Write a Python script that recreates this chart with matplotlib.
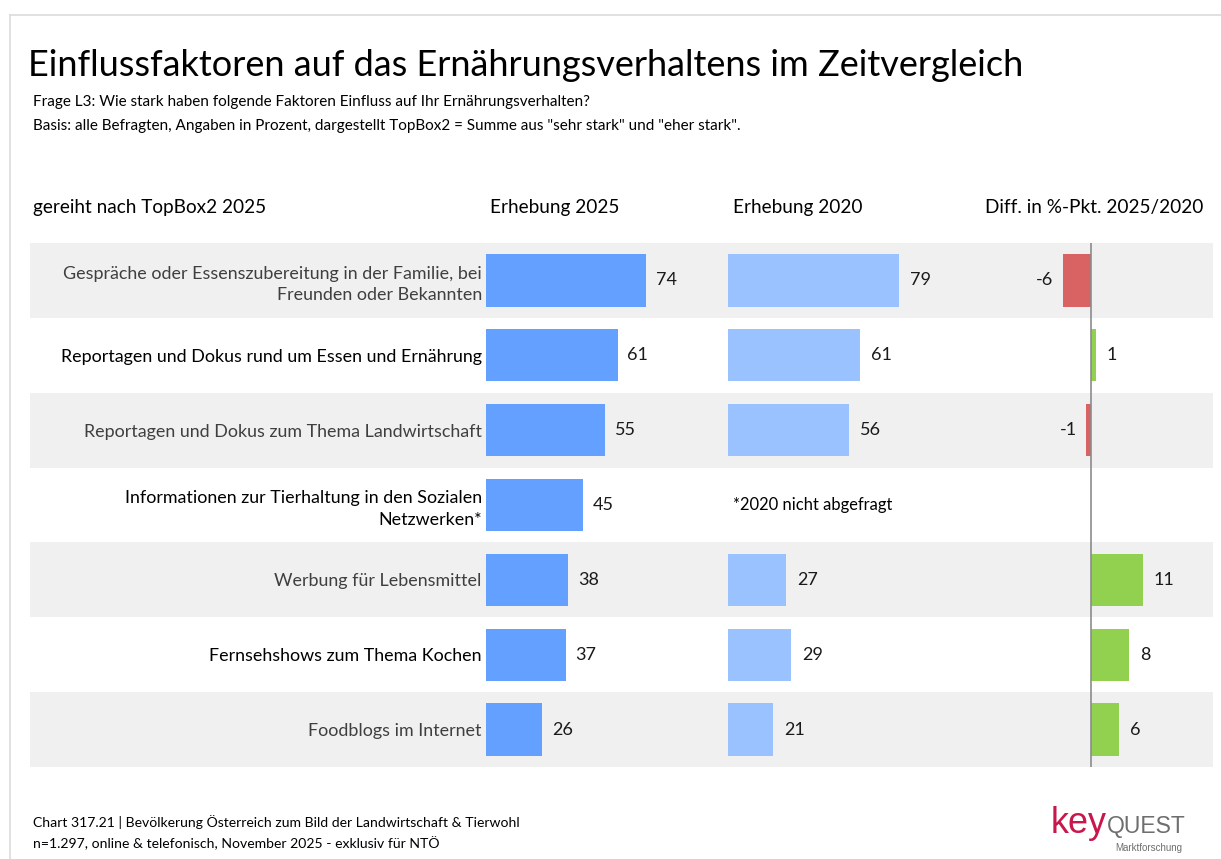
import numpy as np
import matplotlib
matplotlib.use("Agg")
import matplotlib.pyplot as plt
from matplotlib.lines import Line2D

kategorien = [
    "Gespräche oder Essenszubereitung in der Familie, bei\nFreunden oder Bekannten",
    "Reportagen und Dokus rund um Essen und Ernährung",
    "Reportagen und Dokus zum Thema Landwirtschaft",
    "Informationen zur Tierhaltung in den Sozialen\nNetzwerken*",
    "Werbung für Lebensmittel",
    "Fernsehshows zum Thema Kochen",
    "Foodblogs im Internet",
]
werte_2025 = [74, 61, 55, 45, 38, 37, 26]
werte_2020 = [79, 61, 56, np.nan, 27, 29, 21]
differenz = [-6, 1, -1, np.nan, 11, 8, 6]

titel = "Einflussfaktoren auf das Ernährungsverhaltens im Zeitvergleich"
frage = "Frage L3: Wie stark haben folgende Faktoren Einfluss auf Ihr Ernährungsverhalten?"
basis = 'Basis: alle Befragten, Angaben in Prozent, dargestellt TopBox2 = Summe aus "sehr stark" und "eher stark".'
kopf = ["gereiht nach TopBox2 2025", "Erhebung 2025", "Erhebung 2020", "Diff. in %-Pkt. 2025/2020"]
fuss1 = "Chart 317.21 | Bevölkerung Österreich zum Bild der Landwirtschaft & Tierwohl"
fuss2 = "n=1.297, online & telefonisch, November 2025 - exklusiv für NTÖ"

plt.rcParams['font.family'] = ['Lato', 'DejaVu Sans']

W, H = 1221, 859
fig = plt.figure(figsize=(W / 100, H / 100), dpi=100)

def box(x0, y0, x1, y1):
    # Pixelkoordinaten (oben links) -> Figurkoordinaten
    return [x0 / W, 1 - y1 / H, (x1 - x0) / W, (y1 - y0) / H]

def ftext(x, y, s, **kw):
    return fig.text(x / W, 1 - y / H, s, **kw)

# Rahmenlinien
fig.add_artist(Line2D([10 / W, 1], [1 - 15 / H] * 2, color="#dcdcdc", lw=1.2))
fig.add_artist(Line2D([10 / W] * 2, [0, 1 - 15 / H], color="#dcdcdc", lw=1.2))

n = len(kategorien)
y = np.arange(n)
oben, unten = 243, 767

# Hintergrund mit grauen Zeilen
ax_bg = fig.add_axes(box(30, oben, 1213, unten), zorder=0)
ax_bg.set_xlim(0, 1)
ax_bg.set_ylim(n - 0.5, -0.5)
for i in y[::2]:
    ax_bg.axhspan(i - 0.5, i + 0.5, color="#f0f0f0", lw=0)
ax_bg.axis("off")

blau = "#64a0ff"
hellblau = "#99c2ff"
rot = "#d96262"
gruen = "#92d050"
fs_wert = 13

# Erhebung 2025
ax1 = fig.add_axes(box(486, oben, 702, unten), zorder=1)
ax1.barh(y, werte_2025, height=0.7, color=blau)
ax1.set_xlim(0, 100)
for yi, v in zip(y, werte_2025):
    ax1.annotate(f"{v}", (v, yi), xytext=(7, 0), textcoords="offset points",
                 va="center", ha="left", fontsize=fs_wert, color="#1a1a1a")
ax1.set_yticks(y)
ax1.set_yticklabels(kategorien, fontsize=12.9, linespacing=1.4)
for i, t in enumerate(ax1.get_yticklabels()):
    t.set_color("#3f3f3f" if i % 2 == 0 else "#000000")
ax1.tick_params(axis="y", length=0, pad=3)
ax1.set_xticks([])

# Erhebung 2020
ax2 = fig.add_axes(box(728, oben, 944, unten), zorder=1)
ax2.barh(y, werte_2020, height=0.7, color=hellblau)
ax2.set_xlim(0, 100)
for yi, v in zip(y, werte_2020):
    if np.isnan(v):
        continue
    ax2.annotate(f"{v:.0f}", (v, yi), xytext=(8, 0), textcoords="offset points",
                 va="center", ha="left", fontsize=fs_wert, color="#1a1a1a")
ax2.text(2.3, 3, "*2020 nicht abgefragt", va="center", ha="left", fontsize=11.9, color="#000000")
ax2.set_yticks([])
ax2.set_xticks([])

# Differenz
ax3 = fig.add_axes(box(1030, oben, 1213, unten), zorder=1)
farben = [rot if d < 0 else gruen for d in np.nan_to_num(differenz)]
ax3.barh(y, differenz, height=0.7, color=farben)
ax3.axvline(0, color="#8c8c8c", lw=1.2)
ax3.set_xlim(-13, 26)
for yi, d in zip(y, differenz):
    if np.isnan(d):
        continue
    if d < 0:
        ax3.annotate(f"{d:.0f}", (d, yi), xytext=(-7, 0), textcoords="offset points",
                     va="center", ha="right", fontsize=fs_wert, color="#1a1a1a")
    else:
        ax3.annotate(f"{d:.0f}", (d, yi), xytext=(8, 0), textcoords="offset points",
                     va="center", ha="left", fontsize=fs_wert, color="#1a1a1a")
ax3.set_yticks([])
ax3.set_xticks([])

for ax in (ax1, ax2, ax3):
    ax.set_ylim(n - 0.5, -0.5)
    ax.patch.set_alpha(0)
    for s in ax.spines.values():
        s.set_visible(False)

# Texte
ftext(28, 65, titel, fontsize=26, va="center", ha="left", color="#000000")
ftext(33, 102, frage, fontsize=11, va="center", ha="left", color="#000000")
ftext(33, 126, basis, fontsize=11, va="center", ha="left", color="#000000")
for x, s in zip([33, 490, 733, 985], kopf):
    ftext(x, 208, s, fontsize=13.7, va="center", ha="left", color="#000000")
ftext(33, 822, fuss1, fontsize=10.1, va="center", ha="left", color="#000000")
ftext(33, 843, fuss2, fontsize=10.1, va="center", ha="left", color="#000000")

# Logo
ftext(1107, 833, "key", fontsize=26, va="baseline", ha="right", color="#c8174b",
      family="Liberation Sans")
ftext(1107, 833, "QUEST", fontsize=16.5, va="baseline", ha="left", color="#6e6e6e",
      family="Liberation Sans")
ftext(1182, 848, "Marktforschung", fontsize=7, va="center", ha="right", color="#6e6e6e",
      family="Liberation Sans")

fig.savefig("out.png", dpi=100)
